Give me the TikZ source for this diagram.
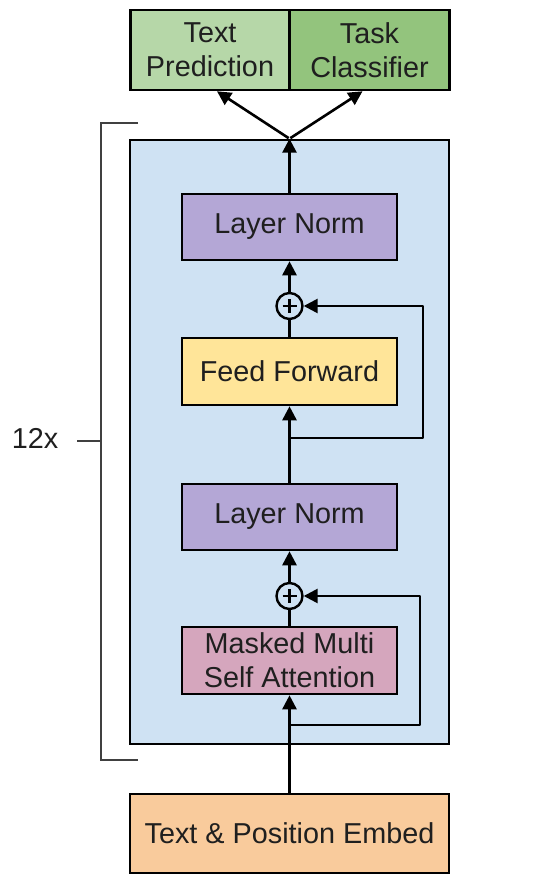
\documentclass[tikz,border=0pt]{standalone}
\usepackage{fontspec}
\setmainfont{Liberation Sans}
\usetikzlibrary{arrows.meta}

\definecolor{predgreen}{HTML}{B6D7A8}
\definecolor{taskgreen}{HTML}{93C47D}
\definecolor{blockblue}{HTML}{CFE2F3}
\definecolor{normpurple}{HTML}{B4A7D6}
\definecolor{ffyellow}{HTML}{FFE599}
\definecolor{attnpink}{HTML}{D5A6BD}
\definecolor{embedorange}{HTML}{F9CB9C}

\begin{document}
\begin{tikzpicture}[x=1pt,y=1pt,->,>={Triangle[length=14pt,width=14pt]},
                    line width=2.6pt,font=\fontsize{28.8}{34}\selectfont]
  \tikzstyle{every node}=[text=black!88]
  \tikzstyle{layer}=[draw=black,rectangle,minimum width=215pt,minimum height=66pt,
                     align=center,inner sep=0pt]
  \tikzstyle{addnode}=[draw=black,circle,fill=blockblue,minimum size=26pt,inner sep=0pt,
                       line width=2.4pt,
                       path picture={\draw[-,line width=2.2pt]
                         ([xshift=-7pt]path picture bounding box.center) --
                         ([xshift=7pt]path picture bounding box.center)
                         ([yshift=-7pt]path picture bounding box.center) --
                         ([yshift=7pt]path picture bounding box.center);}]
  \tikzstyle{headbox}=[draw=black,rectangle,minimum width=159.5pt,minimum height=80pt,
                       align=center,inner sep=0pt]

  \useasboundingbox (0,0) rectangle (537,877);

  % decoder block
  \node[draw=black,fill=blockblue,minimum width=319pt,minimum height=604pt,
        inner sep=0pt] (block) at (289.5,435) {};

  \node[layer,fill=embedorange,minimum width=319pt,minimum height=79pt]
                         (embed) at (289.5,43.5)              {Text \& Position Embed};
  \node[layer,fill=attnpink,minimum height=67pt]
                         (attn)  [above of=embed,node distance=173pt]  {Masked Multi\\Self Attention};
  \node[addnode]         (addA)  [above of=attn,node distance=64.5pt]  {};
  \node[layer,fill=normpurple]
                         (normA) [above of=addA,node distance=79pt]    {Layer Norm};
  \node[layer,fill=ffyellow,minimum height=67pt]
                         (ff)    [above of=normA,node distance=145.5pt] {Feed Forward};
  \node[addnode]         (addB)  [above of=ff,node distance=65.5pt]    {};
  \node[layer,fill=normpurple]
                         (normB) [above of=addB,node distance=79pt]    {Layer Norm};

  % output heads
  \node[headbox,fill=predgreen] (pred) at (210,827)                    {Text\\Prediction};
  \node[headbox,fill=taskgreen] (task) [right of=pred,node distance=159.5pt] {Task\\Classifier};

  % residual branch points
  \coordinate (splitA) at (attn.south |- 0,152);
  \coordinate (splitB) at (ff.south |- 0,439);

  \draw (embed) -- (attn);
  \draw[-] (attn) -- (addA);
  \draw (addA) -- (normA);
  \draw (normA) -- (ff);
  \draw[-] (ff) -- (addB);
  \draw (addB) -- (normB);
  \draw (normB) -- (block.north);
  \draw[line join=round] (splitA) -| (420,281) -- (addA);
  \draw[line join=round] (splitB) -| (423,571) -- (addB);
  \draw[shorten <=1pt] (block.north) -- ([xshift=7pt]pred.south);
  \draw[shorten <=1pt] (block.north) -- ([xshift=-7pt]task.south);

  % repeat bracket
  \node (times) at (35,439) {12x};
  \draw[-,black!75,line width=1.6pt] (138,754) -- (101,754) -- (101,117) -- (138,117);
  \draw[-,black!75,line width=1.6pt] (77,436) -- (101,436);
\end{tikzpicture}
\end{document}
